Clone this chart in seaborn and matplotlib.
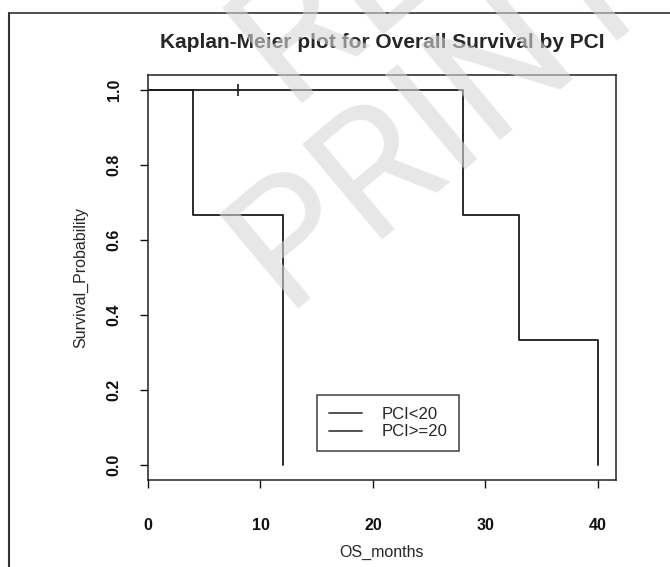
import numpy as np
import pandas as pd
import seaborn as sns
import matplotlib.pyplot as plt
from matplotlib.lines import Line2D

# Kaplan-Meier step points (time, survival) per PCI group
times_low = [0, 28, 33, 40]
surv_low = [1.0, 0.667, 0.333, 0.0]
times_high = [0, 4, 12]
surv_high = [1.0, 0.667, 0.0]
groups = ['PCI<20', 'PCI>=20']

# censored observation
cens_time = [8]
cens_surv = [1.0]

df = pd.DataFrame({
    'OS_months': times_low + times_high,
    'Survival_Probability': surv_low + surv_high,
    'Group': [groups[0]] * len(times_low) + [groups[1]] * len(times_high),
})

sns.set_style('white')
plt.rcParams['font.family'] = ['Liberation Sans', 'DejaVu Sans']

fig = plt.figure(figsize=(6.7, 5.67), dpi=100)
ax = fig.add_axes([0.221, 0.153, 0.698, 0.715])

sns.lineplot(data=df, x='OS_months', y='Survival_Probability', hue='Group',
             palette=['#1a1a1a', '#1a1a1a'], estimator=None, sort=False,
             drawstyle='steps-post', linewidth=1.3, ax=ax, legend=False)
sns.scatterplot(x=cens_time, y=cens_surv, marker='|', s=70, color='#1a1a1a',
                linewidth=1.2, ax=ax)

ax.set_xlim(0, 41.6)
ax.set_ylim(-0.04, 1.04)
ax.set_xticks([0, 10, 20, 30, 40])
ax.set_yticks([0.0, 0.2, 0.4, 0.6, 0.8, 1.0])
ax.set_yticklabels(['0.0', '0.2', '0.4', '0.6', '0.8', '1.0'], rotation=90, va='center')
for s in ax.spines.values():
    s.set_visible(True)
    s.set_color('#222222')
    s.set_linewidth(1.1)
ax.tick_params(axis='x', direction='out', length=6, width=1, pad=21, labelsize=11.5, colors='#111111')
ax.tick_params(axis='y', direction='out', length=6, width=1, pad=13, labelsize=11.5, colors='#111111')
ax.tick_params(bottom=True, left=True)
for lab in ax.get_xticklabels() + ax.get_yticklabels():
    lab.set_fontweight('bold')

ax.set_xlabel('OS_months', fontsize=11.5, labelpad=9)
ax.set_ylabel('Survival_Probability', fontsize=11.5, labelpad=13)
ax.set_title('Kaplan-Meier plot for Overall Survival by PCI', fontsize=15,
             fontweight='bold', pad=19)

handles = [Line2D([], [], color='#444444', linewidth=1.3) for _ in groups]
leg = ax.legend(handles, groups, loc='lower left', bbox_to_anchor=(0.361, 0.072),
                fontsize=12, frameon=True, fancybox=False, edgecolor='#111111',
                handlelength=2.0, handletextpad=1.2, borderpad=0.7, labelspacing=0.15,
                borderaxespad=0)
leg.get_frame().set_linewidth(1.1)

# outer frame (open at right / bottom)
fig.add_artist(Line2D([0.0134, 0.0134], [0.0, 0.977], color='#333333', linewidth=1.5))
fig.add_artist(Line2D([0.0134, 1.0], [0.977, 0.977], color='#333333', linewidth=1.2))

# watermark (cut off at the top edge, as in the scan)
wm = dict(rotation=40, fontsize=125, color='#d8d8d8', ha='center', va='center',
          zorder=10, alpha=0.6, family=['Roboto', 'DejaVu Sans'])
fig.text(0.50, 1.0, 'RE', **wm)
fig.text(0.66, 0.80, 'PRINT', **wm)

fig.savefig('out.png', dpi=100)
